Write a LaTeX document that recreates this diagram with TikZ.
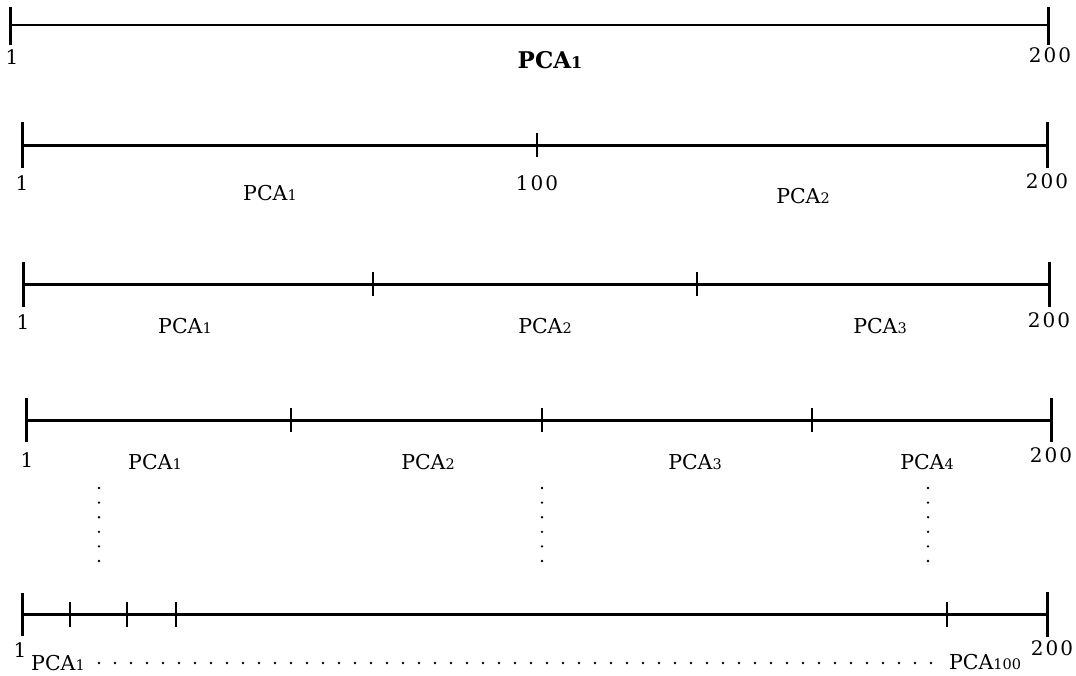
\documentclass[tikz,border=0pt]{standalone}
\usepackage{fontspec}
\setmainfont{DejaVu Serif}
\begin{document}
\begin{tikzpicture}[x=1pt,y=-1pt,
  axis/.style={line width=3pt},
  endtick/.style={line width=3pt},
  midtick/.style={line width=2.8pt},
  lbl/.style={inner sep=0pt,font=\fontsize{20.5}{24}\selectfont},
  toplbl/.style={inner sep=0pt,font=\fontsize{23}{27}\selectfont\bfseries},
  num/.style={inner sep=0pt,font=\fontsize{20}{24}\selectfont},
  dotmark/.style={fill=black,inner sep=0pt,minimum size=2.6pt,circle}]
\useasboundingbox (0,0) rectangle (1076,675);
\newcommand\pcasub[1]{PCA{\fontsize{14.5}{16}\selectfont #1}}
\newcommand\pcasubb[1]{PCA{\fontsize{16}{18}\selectfont #1}}
% ---- line 1
\draw[axis,line width=2.4pt] (10,25) -- (1048,25);
\draw[endtick] (10,7) -- (10,45);
\draw[endtick] (1048,7) -- (1048,45);
\node[num] (l1a) at (12,57) {1};
\node[toplbl] (l1p) at (550,60) {\pcasubb{1}};
\node[num] (l1b) at (1050,55) {2\kern2pt0\kern2pt0};
% ---- line 2
\draw[axis] (22,145) -- (1047,145);
\draw[endtick] (22,122) -- (22,168);
\draw[endtick] (1047,122) -- (1047,168);
\draw[midtick] (537,133) -- (537,157);
\node[num] (l2a) at (22,183) {1};
\node[num] (l2m) at (537,183) {1\kern2pt0\kern2pt0};
\node[num] (l2b) at (1047,181) {2\kern2pt0\kern2pt0};
\node[lbl] (l2p1) at (270,193) {\pcasub{1}};
\node[lbl] (l2p2) at (803,196) {\pcasub{2}};
% ---- line 3
\draw[axis] (23,284) -- (1049,284);
\draw[endtick] (23,262) -- (23,307);
\draw[endtick] (1049,262) -- (1049,307);
\foreach \t in {373,697} \draw[midtick] (\t,272) -- (\t,296);
\node[num] (l3a) at (23,322) {1};
\node[num] (l3b) at (1049,320) {2\kern2pt0\kern2pt0};
\node[lbl] (l3p1) at (185,326) {\pcasub{1}};
\node[lbl] (l3p2) at (545,326) {\pcasub{2}};
\node[lbl] (l3p3) at (880,326) {\pcasub{3}};
% ---- line 4
\draw[axis] (26,420) -- (1051,420);
\draw[endtick] (26,398) -- (26,442);
\draw[endtick] (1051,398) -- (1051,442);
\foreach \t in {291,542,812} \draw[midtick] (\t,408) -- (\t,432);
\node[num] (l4a) at (27,460) {1};
\node[num] (l4b) at (1051,455) {2\kern2pt0\kern2pt0};
\node[lbl] (l4p1) at (155,462) {\pcasub{1}};
\node[lbl] (l4p2) at (428,462) {\pcasub{2}};
\node[lbl] (l4p3) at (695,462) {\pcasub{3}};
\node[lbl] (l4p4) at (927,462) {\pcasub{4}};
% ---- vertical dots
\foreach \xx in {99,542,928}
  \foreach \k in {0,...,5}
    \node[dotmark] at (\xx,488+14.6*\k) {};
% ---- line 5
\draw[axis] (22,614) -- (1047,614);
\draw[endtick] (22,593) -- (22,636);
\draw[endtick] (1047,592) -- (1047,637);
\foreach \t in {70,127,176,947} \draw[midtick] (\t,602) -- (\t,627);
\node[num] (l5a) at (20,650) {1};
\node[num] (l5b) at (1052,648) {2\kern2pt0\kern2pt0};
\node[lbl] (l5p1) at (58,663) {\pcasub{1}};
\node[lbl] (l5p2) at (985,662) {\pcasub{100}};
\foreach \k in {0,...,52}
  \node[dotmark] at (99+16*\k,663) {};
\end{tikzpicture}
\end{document}
